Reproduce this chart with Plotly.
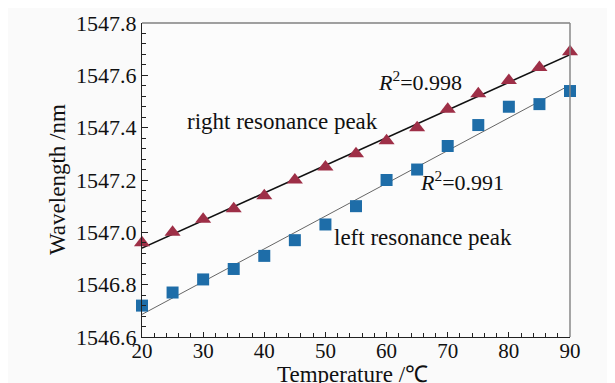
import numpy as np
import plotly.graph_objects as go

temperature = [20, 25, 30, 35, 40, 45, 50, 55, 60, 65, 70, 75, 80, 85, 90]
right_peak = [1546.96, 1547.00, 1547.05, 1547.09, 1547.14, 1547.20, 1547.25, 1547.30,
              1547.35, 1547.40, 1547.47, 1547.53, 1547.58, 1547.63, 1547.69]
left_peak = [1546.72, 1546.77, 1546.82, 1546.86, 1546.91, 1546.97, 1547.03, 1547.10,
             1547.20, 1547.24, 1547.33, 1547.41, 1547.48, 1547.49, 1547.54]
x_ticks = [20, 30, 40, 50, 60, 70, 80, 90]
y_ticks = [1546.6, 1546.8, 1547.0, 1547.2, 1547.4, 1547.6, 1547.8]
y_tick_text = ["1546.6", "1546.8", "1547.0", "1547.2", "1547.4", "1547.6", "1547.8"]

t = np.array(temperature, dtype=float)
fit_x = np.array([20.0, 90.0])
pr = np.polyfit(t, right_peak, 1)
pl = np.polyfit(t, left_peak, 1)

FONT = "Liberation Serif, Times New Roman, serif"
fig = go.Figure()
fig.add_trace(go.Scatter(x=fit_x, y=np.polyval(pr, fit_x), mode="lines",
                         line=dict(color="#111111", width=1.6), showlegend=False))
fig.add_trace(go.Scatter(x=fit_x, y=np.polyval(pl, fit_x), mode="lines",
                         line=dict(color="#666666", width=1), showlegend=False))
fig.add_trace(go.Scatter(x=temperature, y=right_peak, mode="markers",
                         marker=dict(symbol="triangle-up", size=14, color="#9E2F47"),
                         showlegend=False, cliponaxis=False))
fig.add_trace(go.Scatter(x=temperature, y=left_peak, mode="markers",
                         marker=dict(symbol="square", size=12, color="#1E6DA8"),
                         showlegend=False, cliponaxis=False))

ann_font = dict(family=FONT, size=23, color="#111111")
r_font = dict(family=FONT, size=22, color="#111111")
fig.add_annotation(x=43.0, y=1547.422, text="right resonance peak", showarrow=False, font=ann_font)
fig.add_annotation(x=66.0, y=1546.979, text="left resonance peak", showarrow=False, font=ann_font)
fig.add_annotation(x=65.5, y=1547.578, text="<i>R</i><sup style='font-size:60%'>2</sup>=0.998",
                   showarrow=False, font=r_font)
fig.add_annotation(x=72.3, y=1547.195, text="<i>R</i><sup style='font-size:60%'>2</sup>=0.991",
                   showarrow=False, font=r_font)

# axis titles
fig.add_annotation(xref="paper", yref="paper", x=0.492, y=0, yanchor="top", yshift=-23,
                   text="Temperature /℃", showarrow=False,
                   font=dict(family=FONT, size=23, color="#111"))
fig.add_annotation(xref="paper", yref="paper", x=0, y=0.5, xanchor="center", xshift=-85,
                   textangle=-90, text="Wavelength /nm", showarrow=False,
                   font=dict(family=FONT, size=23, color="#111"))

# top and right frame lines
fig.add_shape(type="line", xref="paper", yref="paper", x0=0, x1=1, y0=1, y1=1,
              line=dict(color="#444444", width=1.2))
fig.add_shape(type="line", xref="paper", yref="paper", x0=1, x1=1, y0=0, y1=1,
              line=dict(color="#888888", width=1.5))

fig.update_xaxes(range=[20, 90], tickvals=x_ticks, ticks="inside", ticklen=5, tickwidth=1,
                 tickcolor="#222", showline=True, linecolor="#222", linewidth=1.2,
                 showgrid=False, zeroline=False, automargin=False, ticklabelstandoff=-5,
                 minor=dict(dtick=2, ticks="inside", ticklen=4, tickcolor="#222"),
                 tickfont=dict(family=FONT, size=21, color="#111"))
fig.update_yaxes(range=[1546.6, 1547.8], tickvals=y_ticks, ticktext=y_tick_text,
                 ticks="inside", ticklen=6, tickwidth=1,
                 tickcolor="#222", showline=True, linecolor="#222", linewidth=1.2,
                 showgrid=False, zeroline=False, automargin=False,
                 minor=dict(dtick=0.04, ticks="inside", ticklen=4, tickcolor="#222"),
                 tickfont=dict(family=FONT, size=22, color="#111"))
fig.update_layout(width=607, height=375, margin=dict(l=134, r=45, t=15, b=46),
                  paper_bgcolor="#fafafa", plot_bgcolor="#fcfcfc")
fig.write_html("out.html")
